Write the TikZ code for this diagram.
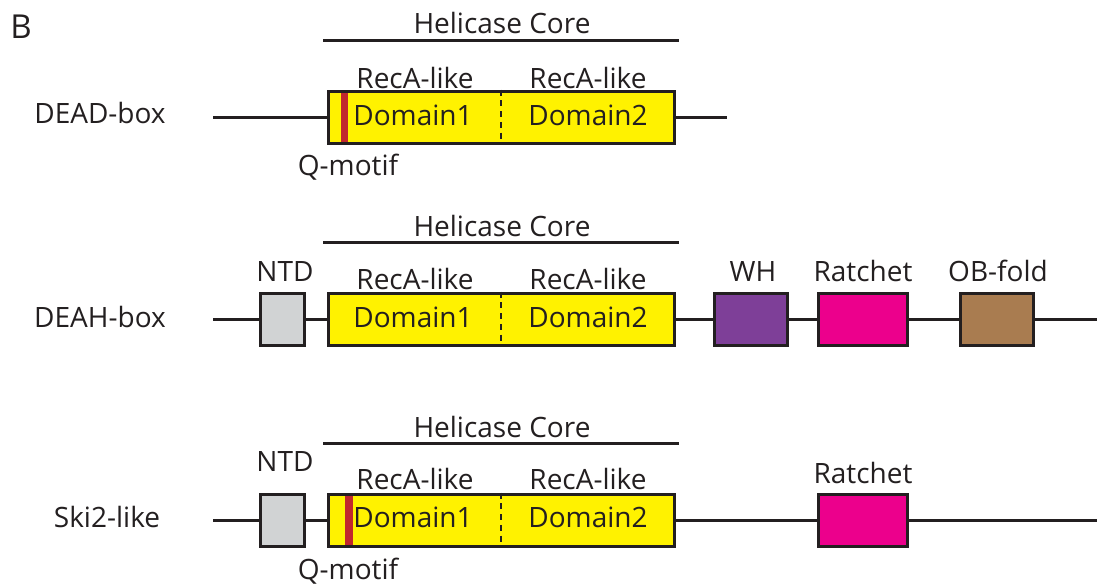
\documentclass[tikz,border=0pt]{standalone}
\usepackage{fontspec}
\setmainfont{Open Sans}
\usetikzlibrary{positioning}

\definecolor{ink}{HTML}{231F20}
\definecolor{recayellow}{HTML}{FFF200}
\definecolor{qred}{HTML}{C1272D}
\definecolor{ntdgray}{HTML}{D1D3D4}
\definecolor{whpurple}{HTML}{7E3F98}
\definecolor{ratchetpink}{HTML}{EC008C}
\definecolor{obbrown}{HTML}{A97C50}

\tikzset{
  lbl/.style={anchor=base, inner sep=0pt, font=\fontsize{14}{17}\selectfont},
  box/.style={draw=ink, line width=1.5pt, inner sep=0pt, minimum height=26pt},
  corebox/.style={box, fill=recayellow, minimum width=173pt},
  qbar/.style={fill=qred, inner sep=0pt, minimum height=24.5pt},
  divider/.style={line width=1pt, dash pattern=on 3pt off 2.4pt},
}

\begin{document}
\begin{tikzpicture}[x=0.5pt, y=-0.5pt, color=ink, line width=1.5pt]
\useasboundingbox (0,0) rectangle (1098,584);

\node[lbl, font=\fontsize{16.5}{19}\selectfont] (panel) at (21,38) {B};

% DEAD-box:   ----[ |Domain1 : Domain2 ]----
\node[lbl] (deadname) at (100,123) {DEAD-box};
\node[lbl] (hc1) at (502,33) {Helicase Core};
\coordinate (hc1w) at (323,40);
\coordinate (hc1e) at (679,40);
\draw (hc1w) -- (hc1e);
\node[corebox] (core1) at (501,117) {};
\node[qbar, minimum width=3.5pt] (q1) at (344.5,117) {};
\draw[divider] (core1.north) -- (core1.south);
\node[lbl] (reca1a) at (415,88) {RecA-like};
\node[lbl] (reca1b) at (588,88) {RecA-like};
\node[lbl] (dom1a) at (413,125) {Domain1};
\node[lbl] (dom1b) at (588,125) {Domain2};
\node[lbl] (qm1) at (348,175) {Q-motif};
\coordinate (s1) at (213,117);
\coordinate (e1) at (727,117);
\draw (s1) -- (core1.west);
\draw (core1.east) -- (e1);

% DEAH-box:   --[]--[ Domain1 : Domain2 ]--[WH]--[Ratchet]--[OB]--
\node[lbl] (deahname) at (100,327) {DEAH-box};
\node[lbl] (hc2) at (502,236) {Helicase Core};
\coordinate (hc2w) at (323,242);
\coordinate (hc2e) at (679,242);
\draw (hc2w) -- (hc2e);
\node[box, fill=ntdgray, minimum width=22pt] (ntd2) at (282,319) {};
\node[corebox] (core2) at (501,319) {};
\draw[divider] (core2.north) -- (core2.south);
\node[box, fill=whpurple, minimum width=36.5pt] (wh) at (750.5,319) {};
\node[box, fill=ratchetpink, minimum width=44.5pt] (rat2) at (862.5,319) {};
\node[box, fill=obbrown, minimum width=36.5pt] (ob) at (996.5,319) {};
\node[lbl] (ntdl2) at (285,281) {NTD};
\node[lbl] (reca2a) at (415,289) {RecA-like};
\node[lbl] (reca2b) at (588,289) {RecA-like};
\node[lbl] (dom2a) at (413,327) {Domain1};
\node[lbl] (dom2b) at (588,327) {Domain2};
\node[lbl] (whl) at (753,281) {WH};
\node[lbl] (ratl2) at (863,281) {Ratchet};
\node[lbl] (obl) at (998,281) {OB-fold};
\coordinate (s2) at (213,319);
\coordinate (e2) at (1097,319);
\draw (s2) -- (ntd2.west);
\draw (ntd2.east) -- (core2.west);
\draw (core2.east) -- (wh.west);
\draw (wh.east) -- (rat2.west);
\draw (rat2.east) -- (ob.west);
\draw (ob.east) -- (e2);

% Ski2-like:  --[]--[ |Domain1 : Domain2 ]--------[Ratchet]--------
\node[lbl] (skiname) at (107,527) {Ski2-like};
\node[lbl] (hc3) at (502,437) {Helicase Core};
\coordinate (hc3w) at (323,443);
\coordinate (hc3e) at (679,443);
\draw (hc3w) -- (hc3e);
\node[box, fill=ntdgray, minimum width=22pt] (ntd3) at (282,520) {};
\node[corebox] (core3) at (501,520) {};
\node[qbar, minimum width=4pt] (q3) at (349,520) {};
\draw[divider] (core3.north) -- (core3.south);
\node[box, fill=ratchetpink, minimum width=44.5pt] (rat3) at (863,520) {};
\node[lbl] (ntdl3) at (285,471) {NTD};
\node[lbl] (reca3a) at (415,489) {RecA-like};
\node[lbl] (reca3b) at (588,489) {RecA-like};
\node[lbl] (dom3a) at (413,527) {Domain1};
\node[lbl] (dom3b) at (588,527) {Domain2};
\node[lbl] (ratl3) at (863,483) {Ratchet};
\node[lbl] (qm3) at (348,579) {Q-motif};
\coordinate (s3) at (213,520);
\coordinate (e3) at (1097,520);
\draw (s3) -- (ntd3.west);
\draw (ntd3.east) -- (core3.west);
\draw (core3.east) -- (rat3.west);
\draw (rat3.east) -- (e3);
\end{tikzpicture}
\end{document}
